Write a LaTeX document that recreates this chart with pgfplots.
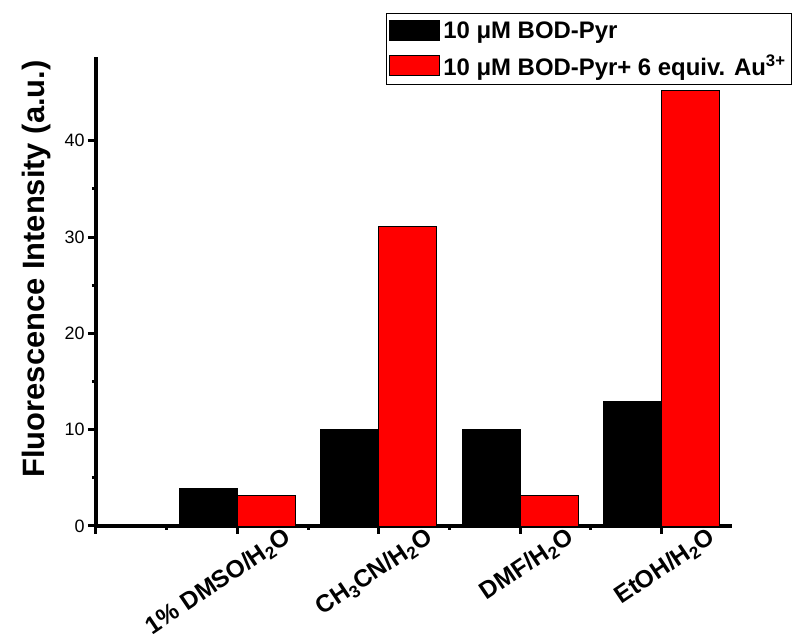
\documentclass[border=0pt]{standalone}
\usepackage{fontspec}
\setmainfont{Liberation Sans}
\usepackage{pgfplots}
\pgfplotsset{compat=1.18}
\begin{document}
\begin{tikzpicture}[x=1bp,y=1bp]
\useasboundingbox (-96,-108) rectangle (699,526);
\begin{axis}[
  at={(0,0)}, anchor=south west,
  scale only axis, width=636bp, height=469bp,
  xmin=0, xmax=4.5, ymin=0, ymax=48.7,
  axis x line*=bottom, axis y line*=left,
  axis line style={line width=3.5bp, -},
  xtick={0,1,2,3,4},
  xticklabels={,1\% DMSO/H\textsubscript{2}O,CH\textsubscript{3}CN/H\textsubscript{2}O,DMF/H\textsubscript{2}O,EtOH/H\textsubscript{2}O},
  ytick={0,10,20,30,40},
  minor x tick num=1, minor y tick num=1,
  tick align=outside,
  major tick length=8bp, minor tick length=4bp,
  every tick/.style={black, line width=3bp},
  /pgf/number format/assume math mode=true,
  yticklabel style={font=\fontsize{18}{21}\selectfont},
  xticklabel style={font=\fontsize{24.5}{28}\selectfont\bfseries, anchor=base east, xshift=58bp, yshift=-5bp, rotate=34},
  ylabel={Fluorescence Intensity (a.u.)},
  ylabel style={font=\fontsize{31}{36}\selectfont\bfseries, at={(axis description cs:-0.093,0.548)}, anchor=center},
  legend style={at={(axis description cs:1.0943,1.0938)}, anchor=north east, draw=black, line width=0.8bp,
    font=\fontsize{24}{28}\selectfont\bfseries, inner xsep=2bp, inner ysep=6bp, nodes={inner xsep=4bp, inner ysep=2bp}, row sep=11bp},
  legend cell align=left,
  legend image code/.code={\draw[#1, line width=0.8bp] (0bp,-10bp) rectangle (50bp,10bp);},
]
\addplot[ybar, bar width=0.41, bar shift=-0.205, fill=black, draw=black, line width=0.8bp]
  coordinates {(1,3.9) (2,10) (3,10) (4,12.9)};
\addplot[ybar, bar width=0.41, bar shift=0.205, fill=red, draw=black, line width=0.8bp]
  coordinates {(1,3.2) (2,31.1) (3,3.2) (4,45.2)};
\legend{10 μM BOD-Pyr, 10 μM BOD-Pyr+ 6 equiv. Au\textsuperscript{3+}}
\end{axis}
\end{tikzpicture}
\end{document}
